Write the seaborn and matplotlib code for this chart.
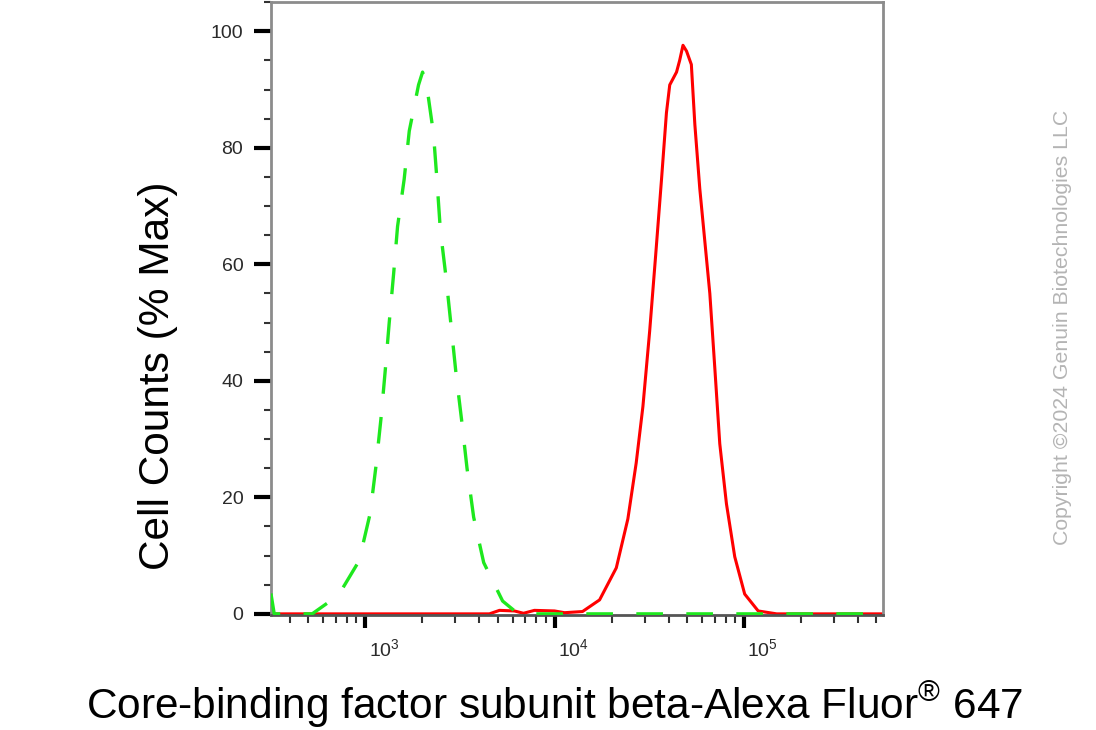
import numpy as np
import pandas as pd
import matplotlib
matplotlib.use("Agg")
import matplotlib.pyplot as plt
import matplotlib.ticker as mticker
from matplotlib.transforms import ScaledTranslation
import seaborn as sns

# Isotype control (green dashed) - fluorescence vs % max
control_fl = [318, 331, 525, 723, 929, 1062, 1140, 1211, 1276, 1340, 1413, 1483,
              1607, 1710, 1914, 2010, 2118, 2296, 2393, 2495, 2673, 2838, 3020,
              3236, 3451, 3741, 4227, 5321, 6266, 7943, 543000]
control_pct = [3.5, 0, 0, 3.2, 9.1, 17.2, 25.3, 33.4, 41.7, 50.0, 58.3, 66.5,
               74.6, 82.9, 90.8, 93.0, 90.5, 82.4, 74.6, 65.9, 57.8, 49.7, 41.2,
               33.1, 25.0, 16.6, 8.8, 2.2, 0.3, 0, 0]

# Stained sample (red solid)
sample_fl = [318, 4530, 5120, 6140, 6860, 7830, 10000, 11300, 14060, 17300,
             21200, 24400, 27000, 29300, 31800, 34200, 36700, 39000, 40600,
             44100, 45800, 47700, 49800, 52800, 55100, 58500, 66100, 70300,
             74600, 80900, 89500, 101000, 119000, 149000, 543000]
sample_pct = [0, 0, 0.6, 0.5, 0.1, 0.6, 0.5, 0.2, 0.4, 2.4,
              7.9, 16.3, 25.9, 35.6, 48.5, 61.5, 74.4, 86.0, 90.8,
              93.0, 95.0, 97.6, 96.6, 94.3, 84.0, 73.0, 55.0, 42.0,
              29.2, 18.9, 9.8, 3.4, 0.5, 0, 0]

x_label = "Core-binding factor subunit beta-Alexa Fluor$^{®}$ 647"
y_label = "Cell Counts (% Max)"
copyright_text = "Copyright ©2024 Genuin Biotechnologies LLC"
y_ticks = [0, 20, 40, 60, 80, 100]

sns.set_theme(style="white")
plt.rcParams["font.family"] = ["Liberation Sans", "DejaVu Sans"]
plt.rcParams["mathtext.fontset"] = "custom"
plt.rcParams["mathtext.rm"] = "Liberation Sans"
plt.rcParams["mathtext.it"] = "Liberation Sans"
plt.rcParams["mathtext.default"] = "regular"

control_df = pd.DataFrame({"fl": control_fl, "pct": control_pct})
sample_df = pd.DataFrame({"fl": sample_fl, "pct": sample_pct})

fig = plt.figure(figsize=(10.96, 7.30), dpi=100)
ax = fig.add_axes([0.2473, 0.1575, 0.5584, 0.8395])

sns.lineplot(data=sample_df, x="fl", y="pct", ax=ax, color="#ff0000",
             linewidth=2.2, sort=False, zorder=2)
sns.lineplot(data=control_df, x="fl", y="pct", ax=ax, color="#1ee81e",
             linewidth=2.4, linestyle=(0, (8, 7)), sort=False, zorder=3)

ax.set_xscale("log")
ax.set_xlim(10 ** 2.503, 10 ** 5.735)
ax.set_ylim(-0.2, 105)

ax.set_yticks(y_ticks)
ax.yaxis.set_minor_locator(mticker.MultipleLocator(5))
ax.xaxis.set_major_locator(mticker.LogLocator(base=10, subs=(1.0,)))
ax.xaxis.set_minor_locator(mticker.LogLocator(base=10, subs=np.arange(2, 10)))
ax.xaxis.set_minor_formatter(mticker.NullFormatter())
ax.xaxis.set_major_formatter(mticker.LogFormatterSciNotation())

ax.tick_params(axis="y", which="major", direction="out", length=12, width=3,
               color="black", pad=8, labelsize=14, labelcolor="#2a2a2a", left=True)
ax.tick_params(axis="y", which="minor", direction="out", length=5, width=1.5,
               color="#333333", left=True)
ax.tick_params(axis="x", which="major", direction="out", length=9.5, width=3,
               color="black", pad=7, labelsize=14, labelcolor="#2a2a2a", bottom=True)
ax.tick_params(axis="x", which="minor", direction="out", length=5.5, width=1.5,
               color="#333333", bottom=True)

# shift the decade labels a bit right like the flow software does
offset = ScaledTranslation(0.19, 0, fig.dpi_scale_trans)
for lbl in ax.get_xticklabels():
    lbl.set_transform(lbl.get_transform() + offset)

for side in ["top", "right", "left"]:
    ax.spines[side].set_color("#8c8c8c")
    ax.spines[side].set_linewidth(2)
ax.spines["bottom"].set_color("#555555")
ax.spines["bottom"].set_linewidth(2)

ax.set_xlabel(x_label, fontsize=30.5, color="black")
ax.xaxis.label.set_va("center")
ax.xaxis.set_label_coords(0.464, -0.147)
ax.set_ylabel(y_label, fontsize=30.5, color="black")
ax.yaxis.label.set_va("center")
ax.yaxis.set_label_coords(-0.185, 0.39)

fig.text(0.969, 0.551, copyright_text, rotation=90, ha="center", va="center",
         fontsize=15.3, color="#b4b4b4")

fig.savefig("out.png", dpi=100)
